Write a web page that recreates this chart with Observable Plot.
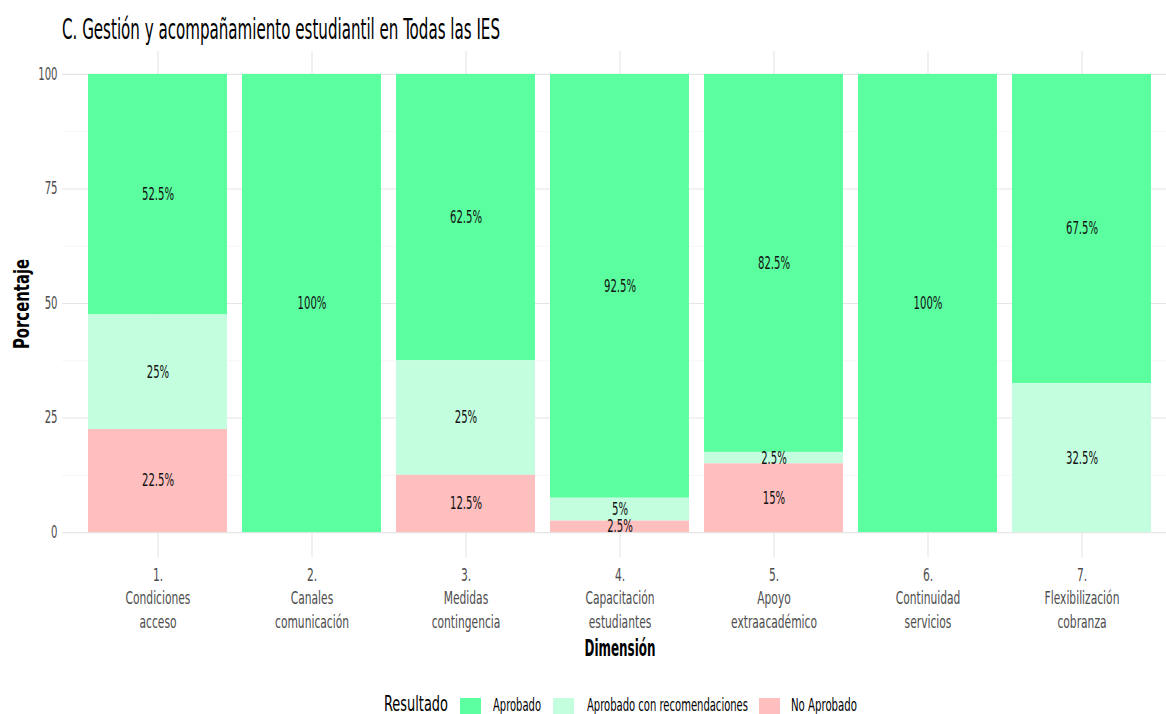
<!DOCTYPE html>
<html>
<head>
<meta charset="utf-8">
<script src="https://cdn.jsdelivr.net/npm/d3@7"></script>
<script src="https://cdn.jsdelivr.net/npm/@observablehq/plot@0.6"></script>
<style>
  html, body { margin: 0; padding: 0; background: #fff; overflow: hidden; }
  body { width: 1166px; height: 714px; position: relative;
         font-family: "Liberation Sans Narrow", "DejaVu Sans Condensed", "Roboto", sans-serif; }
  #chart { position: absolute; left: 0; top: 0; }
  .ov { position: absolute; white-space: nowrap; transform-origin: 0 50%; line-height: 1; }
  #title { left: 62px; top: 16px; font-size: 28px; color: #000; }
  #ytitle { left: 22px; top: 304px; font-size: 22px; font-weight: bold; color: #000; transform-origin: 50% 50%; }
  #xtitle { left: 620px; top: 648px; font-size: 23px; font-weight: bold; color: #000; transform-origin: 50% 50%; }
  .sw { position: absolute; top: 698px; width: 21px; height: 21px; }
  .lt { top: 696px; font-size: 18px; color: #000; }
</style>
</head>
<body>
<div id="chart"></div>
<div id="title" class="ov">C. Gestión y acompañamiento estudiantil en Todas las IES</div>
<div id="ytitle" class="ov">Porcentaje</div>
<div id="xtitle" class="ov">Dimensión</div>
<div id="legend"></div>
<script>
// ---- data ----
const dimensions = ["1.", "2.", "3.", "4.", "5.", "6.", "7."];
const dimensionNames = [
  "Condiciones\nacceso",
  "Canales\ncomunicación",
  "Medidas\ncontingencia",
  "Capacitación\nestudiantes",
  "Apoyo\nextraacadémico",
  "Continuidad\nservicios",
  "Flexibilización\ncobranza"
];
const resultados = ["Aprobado", "Aprobado con recomendaciones", "No Aprobado"];
const resultadoColors = ["#5cffa0", "#c3fedf", "#ffbfbf"];
const aprobado = [52.5, 100, 62.5, 92.5, 82.5, 100, 67.5];
const aprobadoConRec = [25, 0, 25, 5, 2.5, 0, 32.5];
const noAprobado = [22.5, 0, 12.5, 2.5, 15, 0, 0];
const yTicks = [0, 25, 50, 75, 100];
const yMinor = [12.5, 37.5, 62.5, 87.5];

// ---- table ----
const series = [aprobado, aprobadoConRec, noAprobado];
const data = [];
dimensions.forEach((d, i) => {
  resultados.forEach((r, j) => {
    const v = series[j][i];
    if (v > 0) data.push({dim: d, resultado: r, value: v});
  });
});
const stackOrder = ["No Aprobado", "Aprobado con recomendaciones", "Aprobado"];
const labelOf = Object.fromEntries(dimensions.map((d, i) => [d, d + "\n" + dimensionNames[i]]));

const W = 1166, H = 714;
const plot = Plot.plot({
  width: W,
  height: H,
  marginTop: 51,
  marginBottom: 159,
  marginLeft: 62,
  marginRight: 0,
  style: {fontFamily: '"Liberation Sans Narrow", "DejaVu Sans Condensed", sans-serif', background: "#fff"},
  x: {type: "band", domain: dimensions, range: [62.7, 1176], paddingInner: 0.1, paddingOuter: 0.15},
  y: {domain: [-5, 105]},
  color: {domain: resultados, range: resultadoColors},
  marks: [
    Plot.gridY(yMinor, {stroke: "#f0f0f0", strokeOpacity: 1, strokeWidth: 0.6}),
    Plot.gridY(yTicks, {stroke: "#e6e6e6", strokeOpacity: 1, strokeWidth: 1.1}),
    Plot.gridX(dimensions, {stroke: "#e6e6e6", strokeOpacity: 1, strokeWidth: 1.1}),
    Plot.barY(data, Plot.stackY({x: "dim", y: "value", fill: "resultado", order: stackOrder})),
    Plot.text(data, Plot.stackY({x: "dim", y: "value", z: "resultado", order: stackOrder,
      text: d => d.value + "%", fontSize: 17, fill: "#111", className: "barlabel"})),
    Plot.axisY(yTicks, {tickSize: 0, tickPadding: 5, fontSize: 17, color: "#4d4d4d", label: null, className: "yax"}),
    Plot.axisX({tickSize: 3, tickPadding: 6, fontSize: 17, lineHeight: 1.37, color: "#4d4d4d",
      stroke: "#e6e6e6", tickFormat: d => labelOf[d], label: null, className: "xax"})
  ]
});
document.getElementById("chart").appendChild(plot);

// condense SVG text horizontally around its anchor
function condenseSvg(selector, sx) {
  plot.querySelectorAll(selector).forEach(el => {
    const t = el.getAttribute("transform") || "";
    el.setAttribute("transform", `${t} scale(${sx},1)`);
  });
}
condenseSvg(".barlabel text", 0.66);
condenseSvg(".yax text", 0.66);
condenseSvg(".xax text", 0.7);

// ---- legend (HTML) ----
const legend = document.getElementById("legend");
const legendTitle = document.createElement("div");
legendTitle.className = "ov lt";
legendTitle.style.left = "384px";
legendTitle.style.fontSize = "22px";
legendTitle.style.top = "693px";
legendTitle.textContent = "Resultado";
legendTitle.dataset.w = 64;
legend.appendChild(legendTitle);
const swatchX = [460, 553, 759];
const textX = [493, 587, 791];
const textW = [48, 161, 66];
resultados.forEach((r, i) => {
  const s = document.createElement("div");
  s.className = "sw";
  s.style.left = swatchX[i] + "px";
  s.style.background = resultadoColors[i];
  legend.appendChild(s);
  const t = document.createElement("div");
  t.className = "ov lt";
  t.style.left = textX[i] + "px";
  t.textContent = r;
  t.dataset.w = textW[i];
  legend.appendChild(t);
});

// fit widths of condensed HTML texts
function fit(el, target, extra = "") {
  const w = el.getBoundingClientRect().width;
  if (w > 0) el.style.transform = `${extra} scaleX(${target / w})`;
}
fit(document.getElementById("title"), 438);
document.querySelectorAll(".lt").forEach(el => fit(el, +el.dataset.w));
const yt = document.getElementById("ytitle");
const ytw = yt.offsetWidth;
yt.style.transform = `translate(-50%, -50%) rotate(-90deg) scaleX(${90 / ytw})`;
const xt = document.getElementById("xtitle");
const xtw = xt.offsetWidth;
xt.style.transform = `translate(-50%, -50%) scaleX(${71 / xtw})`;
</script>
</body>
</html>
